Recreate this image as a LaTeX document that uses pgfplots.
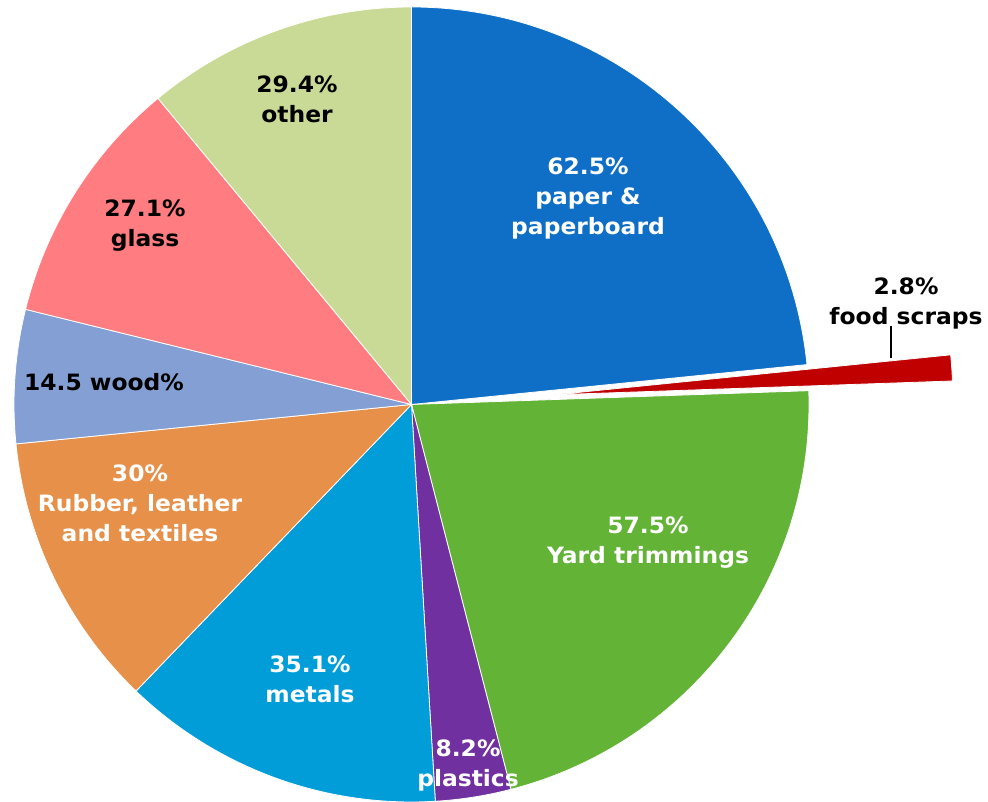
\documentclass[border=0pt]{standalone}
\usepackage{pgfplots}
\pgfplotsset{compat=1.18}
\usepackage{fontspec}
\setmainfont{DejaVu Sans}[FakeStretch=1.04]

\definecolor{cPaper}{HTML}{0F6FC6}
\definecolor{cFood}{HTML}{C00000}
\definecolor{cYard}{HTML}{62B336}
\definecolor{cPlastic}{HTML}{7030A0}
\definecolor{cMetal}{HTML}{009DD9}
\definecolor{cRubber}{HTML}{E6904A}
\definecolor{cWood}{HTML}{849FD3}
\definecolor{cGlass}{HTML}{FF7C80}
\definecolor{cOther}{HTML}{C9DA96}

% slice values, clockwise from the top
\def\vPaper{62.5}
\def\vFood{2.8}
\def\vYard{57.5}
\def\vPlastic{8.2}
\def\vMetal{35.1}
\def\vRubber{30}
\def\vWood{14.5}
\def\vGlass{27.1}
\def\vOther{29.4}

\pgfmathsetmacro\tot{\vPaper+\vFood+\vYard+\vPlastic+\vMetal+\vRubber+\vWood+\vGlass+\vOther}
\pgfmathsetmacro\k{360/\tot}
\pgfmathsetmacro\aA{90}
\pgfmathsetmacro\aB{\aA-\vPaper*\k}
\pgfmathsetmacro\aC{\aB-\vFood*\k}
\pgfmathsetmacro\aD{\aC-\vYard*\k}
\pgfmathsetmacro\aE{\aD-\vPlastic*\k}
\pgfmathsetmacro\aF{\aE-\vMetal*\k}
\pgfmathsetmacro\aG{\aF-\vRubber*\k}
\pgfmathsetmacro\aH{\aG-\vWood*\k}
\pgfmathsetmacro\aI{\aH-\vGlass*\k}
\pgfmathsetmacro\aJ{\aI-\vOther*\k}

% #1 offset (pt), #2 colour, #3 start angle, #4 end angle
\newcommand\slice[4][0]{%
  \fill[#2, draw=white, line width=0.8pt]
    ([shift={({(#3+#4)/2}:#1pt)}]axis cs:411.5,397.5) -- +(#3:397.5pt)
    arc[start angle=#3, end angle=#4, radius=397.5pt] -- cycle;}

\begin{document}
\begin{tikzpicture}
\begin{axis}[
  name=ax,
  scale only axis,
  width=988pt, height=802pt,
  xmin=0, xmax=988, ymin=0, ymax=802,
  hide axis, clip=false,
]
\slice{cPaper}{\aA}{\aB}
\slice[144]{cFood}{\aB}{\aC}
\slice{cYard}{\aC}{\aD}
\slice{cPlastic}{\aD}{\aE}
\slice{cMetal}{\aE}{\aF}
\slice{cRubber}{\aF}{\aG}
\slice{cWood}{\aG}{\aH}
\slice{cGlass}{\aH}{\aI}
\slice{cOther}{\aI}{\aJ}

\draw[black, line width=1.2pt] (axis cs:891,476) -- (axis cs:891,444);

\begin{scope}[every node/.style={align=center, font=\bfseries\fontsize{22.5}{30}\selectfont}]
\node[text=white] at (axis cs:588,603) {62.5\%\\paper \&\\paperboard};
\node[text=black] at (axis cs:906,498) {2.8\%\\food scraps};
\node[text=white] at (axis cs:648,259) {57.5\%\\Yard trimmings};
\node[text=white] at (axis cs:468,37) {8.2\%\\plastics};
\node[text=white] at (axis cs:310,123) {35.1\%\\metals};
\node[text=white] at (axis cs:140,299) {30\%\\Rubber, leather\\and textiles};
\node[text=black] at (axis cs:104,420) {14.5 wood\%};
\node[text=black] at (axis cs:145,576) {27.1\%\\glass};
\node[text=black] at (axis cs:297,703) {29.4\%\\other};
\end{scope}
\end{axis}
\pgfresetboundingbox
\path[use as bounding box] (ax.south west) rectangle (ax.north east);
\end{tikzpicture}
\end{document}
